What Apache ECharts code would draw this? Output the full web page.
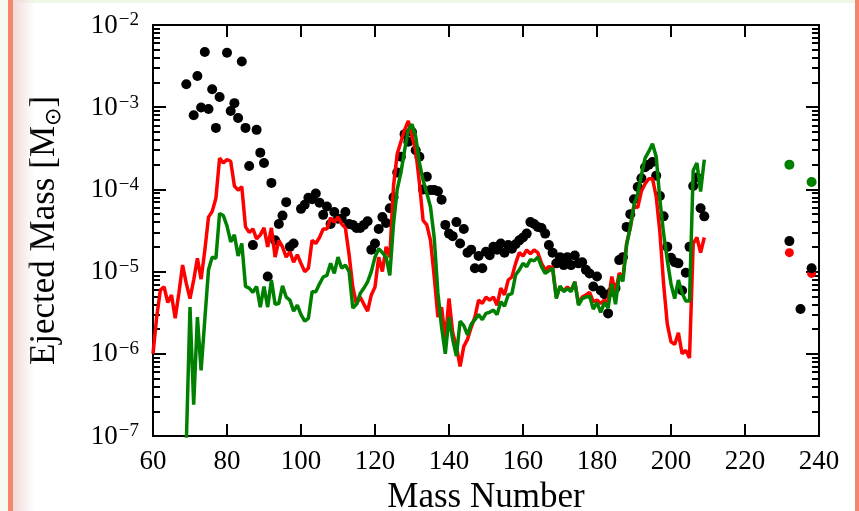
<!DOCTYPE html>
<html>
<head>
<meta charset="utf-8">
<title>Ejected mass by mass number</title>
<script src="https://cdn.jsdelivr.net/npm/echarts@6/dist/echarts.min.js"></script>
<style>
  html, body { margin: 0; padding: 0; background: #ffffff; }
  #page { position: absolute; left: 0; top: 0; width: 859px; height: 511px; overflow: hidden; background: #ffffff; }
  #chart { position: absolute; left: 0; top: 0; width: 859px; height: 511px; }
  .edge { position: absolute; pointer-events: none; }
  .edge-top { left: 0; top: 0; width: 859px; height: 3px; background: #eef8e7; }
  .edge-left-pale { left: 0; top: 0; width: 8px; height: 511px; background: #f6fbf2; }
  .edge-left { left: 8px; top: 0; width: 5px; height: 511px; background: #f4866c; }
  .edge-left-fade { left: 13px; top: 0; width: 22px; height: 511px;
                    background: linear-gradient(to right, #f2dada, rgba(255, 255, 255, 0)); }
  .edge-right { left: 855px; top: 0; width: 4px; height: 511px; background: #f4866c; }
</style>
</head>
<body>
<div id="page">
  <div id="chart"></div>
  <div class="edge edge-top"></div>
  <div class="edge edge-left-pale"></div>
  <div class="edge edge-left"></div>
  <div class="edge edge-left-fade"></div>
  <div class="edge edge-right"></div>
</div>
<script>
// Mass numbers sampled by the two model curves
const lineMass = [
  60, 61, 62, 63, 64, 65, 66, 67, 68, 69, 70, 71, 72, 73, 74, 75, 76, 77, 78, 79,
  80, 81, 82, 83, 84, 85, 86, 87, 88, 89, 90, 91, 92, 93, 94, 95, 96, 97, 98, 99,
  100, 101, 102, 103, 104, 105, 106, 107, 108, 109, 110, 111, 112, 113, 114, 115, 116, 117, 118, 119,
  120, 121, 122, 123, 124, 125, 126, 127, 128, 129, 130, 131, 132, 133, 134, 135, 136, 137, 138, 139,
  140, 141, 142, 143, 144, 145, 146, 147, 148, 149, 150, 151, 152, 153, 154, 155, 156, 157, 158, 159,
  160, 161, 162, 163, 164, 165, 166, 167, 168, 169, 170, 171, 172, 173, 174, 175, 176, 177, 178, 179,
  180, 181, 182, 183, 184, 185, 186, 187, 188, 189, 190, 191, 192, 193, 194, 195, 196, 197, 198, 199,
  200, 201, 202, 203, 204, 205, 206, 207, 208, 209
];

// Red model: ejected mass per mass number (solar masses)
const redYield = [
  1.0e-6, 2.8e-6, 6.0e-6, 6.5e-6, 4.2e-6, 5.2e-6, 2.7e-6, 5.5e-6, 1.2e-5, 7.2e-6,
  4.7e-6, 7.9e-6, 1.45e-5, 8.1e-6, 1.8e-5, 4.6e-5, 5.4e-5, 7.8e-5, 2.4e-4, 2.1e-4,
  2.3e-4, 2.2e-4, 1.1e-4, 9.8e-5, 1.08e-4, 3.5e-5, 3.0e-5, 3.3e-5, 2.5e-5, 2.8e-5,
  3.4e-5, 2.0e-5, 3.4e-5, 1.5e-5, 2.4e-5, 2.0e-5, 1.5e-5, 1.75e-5, 1.3e-5, 1.6e-5,
  1.26e-5, 1.0e-5, 1.1e-5, 2.4e-5, 2.2e-5, 2.6e-5, 3.3e-5, 3.3e-5, 4.5e-5, 4.0e-5,
  4.6e-5, 3.8e-5, 3.4e-5, 1.6e-5, 6.5e-6, 4.0e-6, 4.9e-6, 4.0e-6, 3.3e-6, 5.2e-6,
  6.5e-6, 1.5e-5, 1.0e-5, 2.0e-5, 1.5e-5, 1.1e-4, 2.7e-4, 3.8e-4, 5.3e-4, 6.8e-4,
  4.4e-4, 3.0e-4, 1.2e-4, 4.2e-5, 3.7e-5, 2.4e-5, 8.7e-6, 2.8e-6, 3.7e-6, 1.48e-6,
  4.7e-6, 1.8e-6, 1.23e-6, 7.0e-7, 1.23e-6, 1.5e-6, 2.1e-6, 2.8e-6, 4.5e-6, 4.1e-6,
  4.9e-6, 4.5e-6, 4.9e-6, 3.9e-6, 6.3e-6, 5.2e-6, 7.9e-6, 8.6e-6, 1.26e-5, 1.7e-5,
  1.55e-5, 1.83e-5, 1.65e-5, 1.83e-5, 1.7e-5, 1.26e-5, 1.05e-5, 1.15e-5, 1.12e-5, 4.9e-6,
  6.5e-6, 5.9e-6, 6.5e-6, 5.9e-6, 7.5e-6, 4.1e-6, 4.9e-6, 5.2e-6, 5.6e-6, 4.3e-6,
  4.5e-6, 4.1e-6, 4.5e-6, 4.2e-6, 8.7e-6, 5.5e-6, 9.6e-6, 8.4e-6, 2.2e-5, 3.4e-5,
  6.3e-5, 6.0e-5, 9.5e-5, 1.17e-4, 1.35e-4, 1.35e-4, 8.2e-5, 3.0e-5, 7.1e-6, 2.3e-6,
  1.4e-6, 1.3e-6, 1.8e-6, 1.0e-6, 1.1e-6, 8.9e-7, 2.2e-5, 2.6e-5, 1.7e-5, 2.6e-5
];

// Green model: ejected mass per mass number (solar masses); null where below the plotted range
const greenYield = [
  null, null, null, null, null, null, null, null, null, 8.0e-8,
  3.7e-6, 2.4e-7, 2.8e-6, 6.3e-7, 2.6e-6, 1.05e-5, 1.5e-5, 1.45e-5, 5.1e-5, 4.8e-5,
  3.6e-5, 2.3e-5, 2.8e-5, 1.55e-5, 2.2e-5, 6.6e-6, 6.3e-6, 5.6e-6, 6.6e-6, 3.7e-6,
  6.6e-6, 3.7e-6, 7.9e-6, 4.0e-6, 4.1e-6, 6.7e-6, 4.9e-6, 4.5e-6, 3.3e-6, 3.9e-6,
  3.0e-6, 2.5e-6, 2.7e-6, 5.7e-6, 5.7e-6, 7.1e-6, 8.6e-6, 9.0e-6, 1.26e-5, 9.5e-6,
  1.5e-5, 1.1e-5, 1.2e-5, 1.0e-5, 3.6e-6, 4.0e-6, 5.4e-6, 6.3e-6, 7.5e-6, 1.0e-5,
  1.5e-5, 1.9e-5, 1.7e-5, 1.5e-5, 9.0e-6, 3.8e-5, 1.0e-4, 1.6e-4, 3.0e-4, 5.3e-4,
  6.2e-4, 4.4e-4, 2.1e-4, 1.3e-4, 9.0e-5, 6.1e-5, 2.6e-5, 5.5e-6, 2.1e-6, 1.0e-6,
  2.8e-6, 1.5e-6, 9.4e-7, 2.5e-6, 2.2e-6, 1.7e-6, 2.3e-6, 2.6e-6, 3.0e-6, 2.6e-6,
  3.1e-6, 3.2e-6, 3.4e-6, 3.0e-6, 4.3e-6, 3.8e-6, 5.2e-6, 5.4e-6, 9.1e-6, 1.05e-5,
  1.26e-5, 1.15e-5, 1.4e-5, 1.35e-5, 1.5e-5, 1.15e-5, 9.5e-6, 1.02e-5, 1.1e-5, 4.7e-6,
  6.7e-6, 5.7e-6, 6.2e-6, 5.7e-6, 7.5e-6, 3.9e-6, 4.7e-6, 4.9e-6, 5.0e-6, 3.5e-6,
  4.2e-6, 3.2e-6, 4.2e-6, 3.6e-6, 7.1e-6, 4.0e-6, 9.0e-6, 7.6e-6, 2.1e-5, 3.5e-5,
  6.5e-5, 8.8e-5, 1.5e-4, 2.4e-4, 2.9e-4, 3.6e-4, 2.5e-4, 7.5e-5, 2.9e-5, 1.37e-5,
  7.1e-6, 4.7e-6, 7.9e-6, 5.5e-6, 4.4e-6, 4.4e-6, 1.7e-4, 2.1e-4, 9.4e-5, 2.3e-4
];

// Black points: mass numbers and ejected mass
const dotMass = [
  69, 71, 72, 73, 74, 75, 76, 77, 78, 80, 81, 82, 83, 84, 85, 86, 87, 88, 89, 90,
  91, 92, 93, 94, 95, 96, 97, 98, 100, 101, 102, 103, 104, 105, 106, 107, 108, 109, 110, 111,
  112, 113, 114, 115, 116, 117, 118, 119, 120, 121, 122, 123, 124, 125, 126, 127, 128, 129, 130, 131,
  132, 133, 134, 135, 136, 137, 138, 139, 140, 141, 142, 143, 144, 145, 146, 147, 148, 149, 150, 151,
  152, 153, 154, 155, 156, 157, 158, 159, 160, 161, 162, 163, 164, 165, 166, 167, 168, 169, 170, 171,
  172, 173, 174, 175, 176, 177, 178, 179, 180, 181, 182, 183, 184, 185, 186, 187, 188, 189, 190, 191,
  192, 193, 194, 195, 196, 197, 198, 199, 200, 201, 202, 203, 204, 205, 206, 207, 208, 209,
  232, 235, 238
];
const dotYield = [
  1.9e-3, 8.0e-4, 2.4e-3, 9.9e-4, 4.7e-3, 9.5e-4, 1.65e-3, 5.6e-4, 1.33e-3, 4.6e-3,
  9.0e-4, 1.12e-3, 7.4e-4, 3.6e-3, 5.6e-4, 1.93e-4, 2.1e-5, 5.3e-4, 2.8e-4, 2.1e-4,
  8.7e-6, 1.2e-4, 2.4e-5, 3.8e-5, 4.8e-5, 7.0e-5, 2.0e-5, 2.2e-5, 5.8e-5, 6.5e-5,
  7.9e-5, 7.6e-5, 8.9e-5, 6.9e-5, 4.9e-5, 6.2e-5, 3.8e-5, 5.3e-5, 4.4e-5, 4.4e-5,
  5.3e-5, 3.8e-5, 3.7e-5, 3.4e-5, 3.4e-5, 3.7e-5, 4.1e-5, 1.85e-5, 2.2e-5, 3.3e-5,
  4.6e-5, 3.9e-5, 5.9e-5, 8.0e-5, 1.6e-4, 2.5e-4, 4.7e-4, 3.8e-4, 5.0e-4, 3.0e-4,
  2.5e-4, 1.0e-4, 1.43e-4, 9.8e-5, 9.8e-5, 9.5e-5, 7.5e-5, 3.7e-5, 2.9e-5, 2.7e-5,
  4.0e-5, 2.2e-5, 3.3e-5, 1.7e-5, 1.85e-5, 1.1e-5, 1.55e-5, 1.1e-5, 1.74e-5, 1.58e-5,
  2.0e-5, 1.85e-5, 2.2e-5, 1.7e-5, 2.1e-5, 1.9e-5, 2.15e-5, 2.4e-5, 2.6e-5, 2.9e-5,
  4.0e-5, 3.8e-5, 3.5e-5, 3.4e-5, 2.9e-5, 2.1e-5, 1.7e-5, 1.26e-5, 1.5e-5, 1.2e-5,
  1.5e-5, 1.2e-5, 1.57e-5, 1.26e-5, 1.3e-5, 1.05e-5, 9.5e-6, 6.6e-6, 8.7e-6, 5.9e-6,
  5.3e-6, 3.1e-6, 5.7e-6, 6.3e-6, 1.38e-5, 1.5e-5, 3.5e-5, 5.0e-5, 7.6e-5, 1.07e-4,
  1.37e-4, 1.86e-4, 2.0e-4, 2.15e-4, 1.47e-4, 8.3e-5, 4.7e-5, 2.0e-5, 1.47e-5, 1.3e-5,
  1.26e-5, 5.9e-6, 9.7e-6, 2.0e-5, 1.1e-4, 1.4e-4, 5.9e-5, 4.7e-5,
  2.35e-5, 3.5e-6, 1.1e-5
];

// Single heavy-nucleus points of the two models
const redHeavyMass = [232, 238];
const redHeavyYield = [1.7e-5, 9.5e-6];
const greenHeavyMass = [232, 238];
const greenHeavyYield = [2.0e-4, 1.23e-4];

// Axis ticks and labels
const xTicks = [60, 80, 100, 120, 140, 160, 180, 200, 220, 240];
const yTickValues = [1e-7, 1e-6, 1e-5, 1e-4, 1e-3, 1e-2];
const yTickExponents = ['\u22127', '\u22126', '\u22125', '\u22124', '\u22123', '\u22122'];
const yMinorMultipliers = [2, 3, 4, 5, 6, 7, 8, 9];

const serif = "Liberation Serif";

const yMinorTicks = [];
for (let d = 0; d < yTickValues.length - 1; d++) {
  for (const m of yMinorMultipliers) yMinorTicks.push(m * yTickValues[d]);
}

const pairs = (xs, ys) => xs.map((x, i) => [x, ys[i]]);

function yLabel(value) {
  const lv = Math.log10(value);
  const idx = yTickValues.findIndex(v => Math.abs(Math.log10(v) - lv) < 1e-6);
  if (idx < 0) return '';
  return '{b|10}{s|' + yTickExponents[idx] + '}';
}

const chart = echarts.init(document.getElementById('chart'));
chart.setOption({
  animation: false,
  grid: { left: 153, top: 25, right: 40, bottom: 75, outerBoundsMode: 'none' },
  xAxis: [
    {
      type: 'value', min: 60, max: 240, interval: 20, position: 'bottom',
      axisLine: { show: true, onZero: false, lineStyle: { color: '#000', width: 2 } },
      axisTick: { show: true, inside: true, length: 12, lineStyle: { color: '#000', width: 2 } },
      axisLabel: { show: true, margin: 12, fontFamily: serif, fontSize: 27, color: '#000' },
      splitLine: { show: false },
      name: 'Mass Number', nameLocation: 'middle', nameGap: 44,
      nameTextStyle: { fontFamily: serif, fontSize: 35, color: '#000' }
    },
    {
      type: 'value', min: 60, max: 240, interval: 20, position: 'top',
      axisLine: { show: true, onZero: false, lineStyle: { color: '#000', width: 2 } },
      axisTick: { show: true, inside: true, length: 12, lineStyle: { color: '#000', width: 2 } },
      axisLabel: { show: false },
      splitLine: { show: false }
    }
  ],
  yAxis: [
    {
      type: 'log', logBase: 10, min: 1e-7, max: 1e-2, position: 'left',
      axisLine: { show: true, lineStyle: { color: '#000', width: 2 } },
      axisTick: { show: true, inside: true, length: 13, lineStyle: { color: '#000', width: 2 }, customValues: yTickValues },
      axisLabel: {
        show: true, customValues: yTickValues, margin: 14, color: '#000', formatter: yLabel,
        rich: {
          b: { fontFamily: serif, fontSize: 27, color: '#000', lineHeight: 28, verticalAlign: 'bottom' },
          s: { fontFamily: serif, fontSize: 19, color: '#000', lineHeight: 19, verticalAlign: 'top', padding: [0, 0, 6, 1] }
        }
      },
      splitLine: { show: false },
      name: '{t|Ejected Mass [M}{o|\u2299}{t|]}',
      nameLocation: 'middle', nameGap: 88, nameRotate: 90,
      nameTextStyle: {
        rich: {
          t: { fontFamily: serif, fontSize: 35, color: '#000', lineHeight: 38, verticalAlign: 'top' },
          o: { fontFamily: 'DejaVu Sans', fontSize: 22, color: '#000', lineHeight: 38, verticalAlign: 'bottom' }
        }
      }
    },
    {
      type: 'log', logBase: 10, min: 1e-7, max: 1e-2, position: 'left',
      axisLine: { show: true, lineStyle: { color: '#000', width: 2 } },
      axisTick: { show: true, inside: true, length: 7, lineStyle: { color: '#000', width: 2 }, customValues: yMinorTicks },
      axisLabel: { show: false },
      splitLine: { show: false }
    },
    {
      type: 'log', logBase: 10, min: 1e-7, max: 1e-2, position: 'right',
      axisLine: { show: true, lineStyle: { color: '#000', width: 2 } },
      axisTick: { show: true, inside: true, length: 13, lineStyle: { color: '#000', width: 2 }, customValues: yTickValues },
      axisLabel: { show: false },
      splitLine: { show: false }
    },
    {
      type: 'log', logBase: 10, min: 1e-7, max: 1e-2, position: 'right',
      axisLine: { show: true, lineStyle: { color: '#000', width: 2 } },
      axisTick: { show: true, inside: true, length: 7, lineStyle: { color: '#000', width: 2 }, customValues: yMinorTicks },
      axisLabel: { show: false },
      splitLine: { show: false }
    }
  ],
  series: [
    {
      name: 'red model', type: 'line', data: pairs(lineMass, redYield),
      showSymbol: false, connectNulls: false,
      lineStyle: { color: '#ff0000', width: 3.5 }
    },
    {
      name: 'green model', type: 'line', data: pairs(lineMass, greenYield),
      showSymbol: false, connectNulls: false,
      lineStyle: { color: '#008000', width: 3.5 }
    },
    {
      name: 'red heavy', type: 'scatter', data: pairs(redHeavyMass, redHeavyYield),
      symbolSize: 9, itemStyle: { color: '#ff0000', opacity: 1 }
    },
    {
      name: 'green heavy', type: 'scatter', data: pairs(greenHeavyMass, greenHeavyYield),
      symbolSize: 10, itemStyle: { color: '#008000', opacity: 1 }
    },
    {
      name: 'points', type: 'scatter', data: pairs(dotMass, dotYield),
      symbolSize: 10, itemStyle: { color: '#000000', opacity: 1 }
    }
  ]
});
</script>
</body>
</html>
